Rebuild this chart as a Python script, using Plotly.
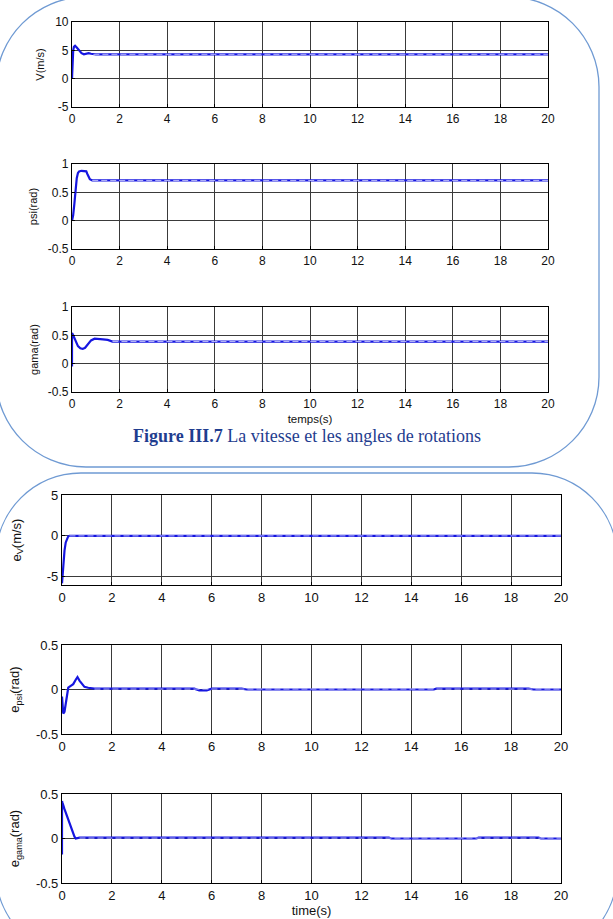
import plotly.graph_objects as go

W, H = 613, 919

# ---------------- data ----------------
x_ticks = [0, 2, 4, 6, 8, 10, 12, 14, 16, 18, 20]
x_ticktext = ["0", "2", "4", "6", "8", "10", "12", "14", "16", "18", "20"]

t_V = [0, 0.02, 0.05, 0.08, 0.13, 0.2, 0.3, 0.4, 0.5, 0.6, 0.7, 0.8, 0.9, 1.0, 20]
V = [0, 3.0, 5.0, 5.6, 5.8, 5.5, 4.9, 4.5, 4.3, 4.35, 4.5, 4.4, 4.3, 4.3, 4.3]
t_V_ref = [0.9, 20]
V_ref = [4.3, 4.3]
V_ticks = [-5, 0, 5, 10]
V_ticktext = ["-5", "0", "5", "10"]

t_psi = [0, 0.05, 0.1, 0.15, 0.2, 0.25, 0.3, 0.4, 0.5, 0.6, 0.65, 0.7, 0.75, 0.85, 20]
psi = [0, 0.1, 0.3, 0.55, 0.75, 0.84, 0.87, 0.88, 0.88, 0.87, 0.82, 0.76, 0.73, 0.71, 0.71]
t_psi_ref = [0.85, 20]
psi_ref = [0.71, 0.71]

t_gama = [0, 0.001, 0.05, 0.15, 0.25, 0.35, 0.45, 0.55, 0.65, 0.8, 0.95, 1.1, 1.3, 1.5, 1.7, 20]
gama = [-0.05, 0.54, 0.5, 0.4, 0.31, 0.27, 0.26, 0.28, 0.34, 0.41, 0.44, 0.44, 0.43, 0.42, 0.39, 0.39]
t_gama_ref = [1.7, 20]
gama_ref = [0.39, 0.39]

ang_ticks = [-0.5, 0, 0.5, 1]
ang_ticktext = ["-0.5", "0", "0.5", "1"]

t_eV = [0, 0.03, 0.06, 0.1, 0.15, 0.2, 0.25, 0.3, 20]
eV = [-5.8, -4.5, -3.0, -1.8, -0.8, -0.3, -0.05, 0, 0]
t_eV_ref = [0.3, 20]
eV_ref = [0, 0]
eV_ticks = [-5, 0, 5]
eV_ticktext = ["-5", "0", "5"]

t_epsi = [0, 0.05, 0.1, 0.2, 0.25, 0.35, 0.45, 0.55, 0.62, 0.7, 0.8, 0.9, 1.05, 1.3,
          5.3, 5.5, 5.8, 6.0, 7.2, 7.4, 14.9, 15.0, 18.7, 18.9, 20]
epsi = [-0.08, -0.27, -0.25, -0.1, 0.02, 0.04, 0.06, 0.11, 0.14, 0.1, 0.06, 0.03, 0.02, 0.01,
        0.01, -0.01, -0.01, 0.01, 0.01, 0.0, 0.0, 0.01, 0.01, 0.0, 0.0]
t_epsi_ref = [1.3, 20]
epsi_ref = [0.005, 0.005]

t_egama = [0, 0.001, 0.02, 0.1, 0.2, 0.3, 0.4, 0.5, 0.55, 0.7, 8.7, 13.1, 13.2, 16.6, 16.7, 19.1, 19.2, 20]
egama = [-0.18, 0.42, 0.4, 0.33, 0.25, 0.17, 0.09, 0.02, 0.0, 0.01, 0.01, 0.01, 0.0, 0.0, 0.01, 0.01, 0.0, 0.0]
t_egama_ref = [0.7, 20]
egama_ref = [0.005, 0.005]

err_ticks = [-0.5, 0, 0.5]
err_ticktext = ["-0.5", "0", "0.5"]

y_titles = ["V(m/s)", "psi(rad)", "gama(rad)",
            "e<sub>V</sub>(m/s)", "e<sub>psi</sub>(rad)", "e<sub>gama</sub>(rad)"]
caption_bold = "Figure III.7"
caption_rest = " La vitesse et les angles de rotations"
xlabel_top = "temps(s)"
xlabel_bottom = "time(s)"

# ---------------- layout helpers ----------------
def px(x):
    return x / W

def py(y):
    return 1 - y / H

LINE = "#1616e0"
DASH = "rgba(215,215,255,0.95)"
FONT = "Arial"

panels = [
    dict(t=t_V, y=V, rt=t_V_ref, ry=V_ref, xd=(72, 548), yd=(22, 107), yr=[-5, 10],
         yt=V_ticks, ytt=V_ticktext, fs=12, tfs=11, so=8),
    dict(t=t_psi, y=psi, rt=t_psi_ref, ry=psi_ref, xd=(72, 548), yd=(164, 249), yr=[-0.5, 1],
         yt=ang_ticks, ytt=ang_ticktext, fs=12, tfs=11, so=7),
    dict(t=t_gama, y=gama, rt=t_gama_ref, ry=gama_ref, xd=(72, 548), yd=(307, 392), yr=[-0.5, 1],
         yt=ang_ticks, ytt=ang_ticktext, fs=12, tfs=11, so=6),
    dict(t=t_eV, y=eV, rt=t_eV_ref, ry=eV_ref, xd=(62, 561), yd=(495, 585), yr=[-6, 5],
         yt=eV_ticks, ytt=eV_ticktext, fs=13, tfs=13, so=22),
    dict(t=t_epsi, y=epsi, rt=t_epsi_ref, ry=epsi_ref, xd=(62, 561), yd=(645, 734), yr=[-0.5, 0.5],
         yt=err_ticks, ytt=err_ticktext, fs=13, tfs=13, so=13),
    dict(t=t_egama, y=egama, rt=t_egama_ref, ry=egama_ref, xd=(62, 561), yd=(794, 883), yr=[-0.5, 0.5],
         yt=err_ticks, ytt=err_ticktext, fs=13, tfs=13, so=13),
]

fig = go.Figure()
layout = {}
annotations = []

for i, p in enumerate(panels, start=1):
    xa = "x" if i == 1 else f"x{i}"
    ya = "y" if i == 1 else f"y{i}"
    fig.add_trace(go.Scatter(x=p["t"], y=p["y"], mode="lines", xaxis=xa, yaxis=ya,
                             line=dict(color=LINE, width=2.2), hoverinfo="skip"))
    fig.add_trace(go.Scatter(x=p["rt"], y=p["ry"], mode="lines", xaxis=xa, yaxis=ya,
                             line=dict(color=DASH, width=0.9, dash="6px,3px"), hoverinfo="skip"))
    common = dict(showline=True, mirror=True, linecolor="black", linewidth=1.2,
                  showgrid=True, gridcolor="#3a3a3a", gridwidth=1, zeroline=False,
                  ticks="inside", ticklen=3, tickcolor="black", automargin=False,
                  tickfont=dict(family=FONT, size=p["fs"], color="#111"))
    xt = None
    if i == 3:
        xt = dict(text=xlabel_top, font=dict(family=FONT, size=11.5, color="#111"), standoff=5)
    if i == 6:
        xt = dict(text=xlabel_bottom, font=dict(family=FONT, size=13, color="#111"), standoff=2)
    xd = dict(domain=[px(p["xd"][0]), px(p["xd"][1])], anchor=ya, range=[0, 20],
              tickvals=x_ticks, ticktext=x_ticktext, **common)
    if xt:
        xd["title"] = xt
    layout["xaxis" if i == 1 else f"xaxis{i}"] = xd
    layout["yaxis" if i == 1 else f"yaxis{i}"] = dict(
        domain=[py(p["yd"][1]), py(p["yd"][0])], anchor=xa, range=p["yr"],
        tickvals=p["yt"], ticktext=p["ytt"],
        title=dict(text=y_titles[i - 1], font=dict(family=FONT, size=p["tfs"], color="#111"),
                   standoff=p["so"]),
        **common)

annotations.append(dict(text=f"<b>{caption_bold}</b>{caption_rest}", x=px(307), y=py(436),
                        xref="paper", yref="paper", showarrow=False,
                        xanchor="center", yanchor="middle",
                        font=dict(family="Liberation Serif, Times New Roman, serif", size=18,
                                  color="#1f3d8f")))


def rrect(x0, y0, x1, y1, r):
    k = 0.5523 * r

    def P(x, y):
        return f"{px(x):.5f},{py(y):.5f}"

    return (f"M {P(x0 + r, y0)} L {P(x1 - r, y0)} "
            f"C {P(x1 - r + k, y0)} {P(x1, y0 + r - k)} {P(x1, y0 + r)} "
            f"L {P(x1, y1 - r)} "
            f"C {P(x1, y1 - r + k)} {P(x1 - r + k, y1)} {P(x1 - r, y1)} "
            f"L {P(x0 + r, y1)} "
            f"C {P(x0 + r - k, y1)} {P(x0, y1 - r + k)} {P(x0, y1 - r)} "
            f"L {P(x0, y0 + r)} "
            f"C {P(x0, y0 + r - k)} {P(x0 + r - k, y0)} {P(x0 + r, y0)} Z")


shapes = [
    dict(type="path", xref="paper", yref="paper", path=rrect(-4, -3, 599, 467, 90),
         line=dict(color="#6f9ad3", width=1.3), layer="below"),
    dict(type="path", xref="paper", yref="paper", path=rrect(-4, 473, 617, 957, 85),
         line=dict(color="#6f9ad3", width=1.3), layer="below"),
]

fig.update_layout(width=W, height=H, margin=dict(l=0, r=0, t=0, b=0, autoexpand=False),
                  paper_bgcolor="white", plot_bgcolor="white", showlegend=False,
                  annotations=annotations, shapes=shapes, **layout)

fig.write_html("out.html")
